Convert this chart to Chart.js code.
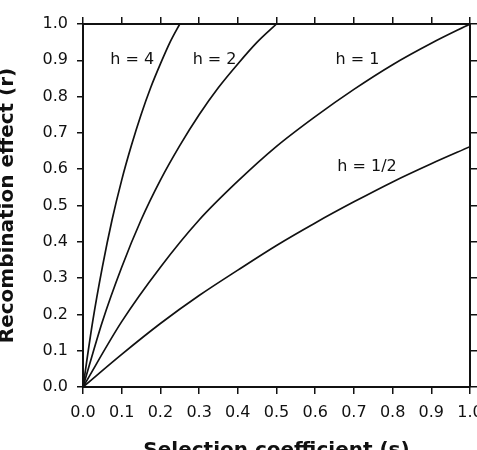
<!DOCTYPE html>
<html>
<head>
<meta charset="utf-8">
<script src="https://cdn.jsdelivr.net/npm/chart.js@4.4.0/dist/chart.umd.min.js"></script>
<style>
  html, body { margin: 0; padding: 0; background: #fff; overflow: hidden; width: 477px; height: 450px; }
  #wrap { position: absolute; left: 0; top: 0; width: 500px; height: 480px; }
</style>
</head>
<body>
<div id="wrap"><canvas id="chart" width="500" height="480"></canvas></div>
<script>
// values
const sH4 = [0, 0.025, 0.05, 0.075, 0.1, 0.125, 0.15, 0.175, 0.2, 0.225, 0.25];
const rH4 = [0, 0.18, 0.33, 0.46, 0.57, 0.665, 0.75, 0.825, 0.89, 0.95, 1.0];

const sH2 = [0, 0.05, 0.1, 0.15, 0.2, 0.25, 0.3, 0.35, 0.4, 0.45, 0.5];
const rH2 = [0, 0.18, 0.33, 0.46, 0.57, 0.665, 0.75, 0.825, 0.89, 0.95, 1.0];

const sH1 = [0, 0.1, 0.2, 0.3, 0.4, 0.5, 0.6, 0.7, 0.8, 0.9, 1.0];
const rH1 = [0, 0.18, 0.33, 0.46, 0.567, 0.663, 0.745, 0.82, 0.888, 0.947, 1.0];

const sHhalf = [0, 0.1, 0.2, 0.3, 0.4, 0.5, 0.6, 0.7, 0.8, 0.9, 1.0];
const rHhalf = [0, 0.09, 0.175, 0.252, 0.322, 0.39, 0.452, 0.51, 0.565, 0.615, 0.662];

const tickFont = { family: 'DejaVu Sans', size: 16 };
const titleFont = { family: 'DejaVu Sans', size: 20, weight: 'bold' };

const curveLabels = [
  { text: 'h = 4', s: 0.127, r: 0.9 },
  { text: 'h = 2', s: 0.34, r: 0.9 },
  { text: 'h = 1', s: 0.709, r: 0.9 },
  { text: 'h = 1/2', s: 0.734, r: 0.606 }
];

function toPoints(xs, ys) {
  return xs.map((x, i) => ({ x: x, y: ys[i] }));
}

function curve(xs, ys) {
  return {
    data: toPoints(xs, ys),
    borderColor: '#111',
    borderWidth: 1.7,
    pointRadius: 0,
    fill: false,
    cubicInterpolationMode: 'monotone'
  };
}

const labelPlugin = {
  id: 'curveLabels',
  afterDatasetsDraw(chart) {
    const { ctx, scales } = chart;
    ctx.save();
    ctx.font = '16px "DejaVu Sans"';
    ctx.fillStyle = '#111';
    ctx.textAlign = 'center';
    ctx.textBaseline = 'middle';
    curveLabels.forEach(l => {
      ctx.fillText(l.text, scales.x.getPixelForValue(l.s), scales.y.getPixelForValue(l.r));
    });
    ctx.restore();
  }
};

const gridOpts = { drawOnChartArea: false, tickLength: 7, color: '#111', lineWidth: 1.5 };
const borderOpts = { display: true, color: '#111', width: 2 };

new Chart(document.getElementById('chart'), {
  type: 'line',
  data: {
    datasets: [curve(sH4, rH4), curve(sH2, rH2), curve(sH1, rH1), curve(sHhalf, rHhalf)]
  },
  options: {
    responsive: false,
    animation: false,
    layout: { padding: 0 },
    plugins: { legend: { display: false }, tooltip: { enabled: false } },
    scales: {
      x: {
        type: 'linear', position: 'bottom', min: 0, max: 1,
        ticks: { stepSize: 0.1, font: tickFont, color: '#111', padding: 9, callback: v => v.toFixed(1) },
        grid: gridOpts, border: borderOpts,
        title: { display: true, text: 'Selection coefficient (s)', font: titleFont, color: '#111', padding: { top: 0, bottom: 17 } },
        afterFit: s => { s.height = 93; }
      },
      x2: {
        type: 'linear', position: 'top', min: 0, max: 1,
        ticks: { stepSize: 0.1, display: false },
        grid: gridOpts, border: borderOpts,
        afterFit: s => { s.height = 24; }
      },
      y: {
        type: 'linear', position: 'left', min: 0, max: 1,
        ticks: { stepSize: 0.1, font: tickFont, color: '#111', padding: 9, callback: v => v.toFixed(1) },
        grid: Object.assign({}, gridOpts, { tickLength: 6 }), border: borderOpts,
        title: { display: true, text: 'Recombination effect (r)', font: titleFont, color: '#111', padding: { top: -4, bottom: 0 } },
        afterFit: s => { s.width = 83; }
      },
      y2: {
        type: 'linear', position: 'right', min: 0, max: 1,
        ticks: { stepSize: 0.1, display: false },
        grid: gridOpts, border: borderOpts,
        afterFit: s => { s.width = 30; }
      }
    }
  },
  plugins: [labelPlugin]
});
</script>
</body>
</html>
